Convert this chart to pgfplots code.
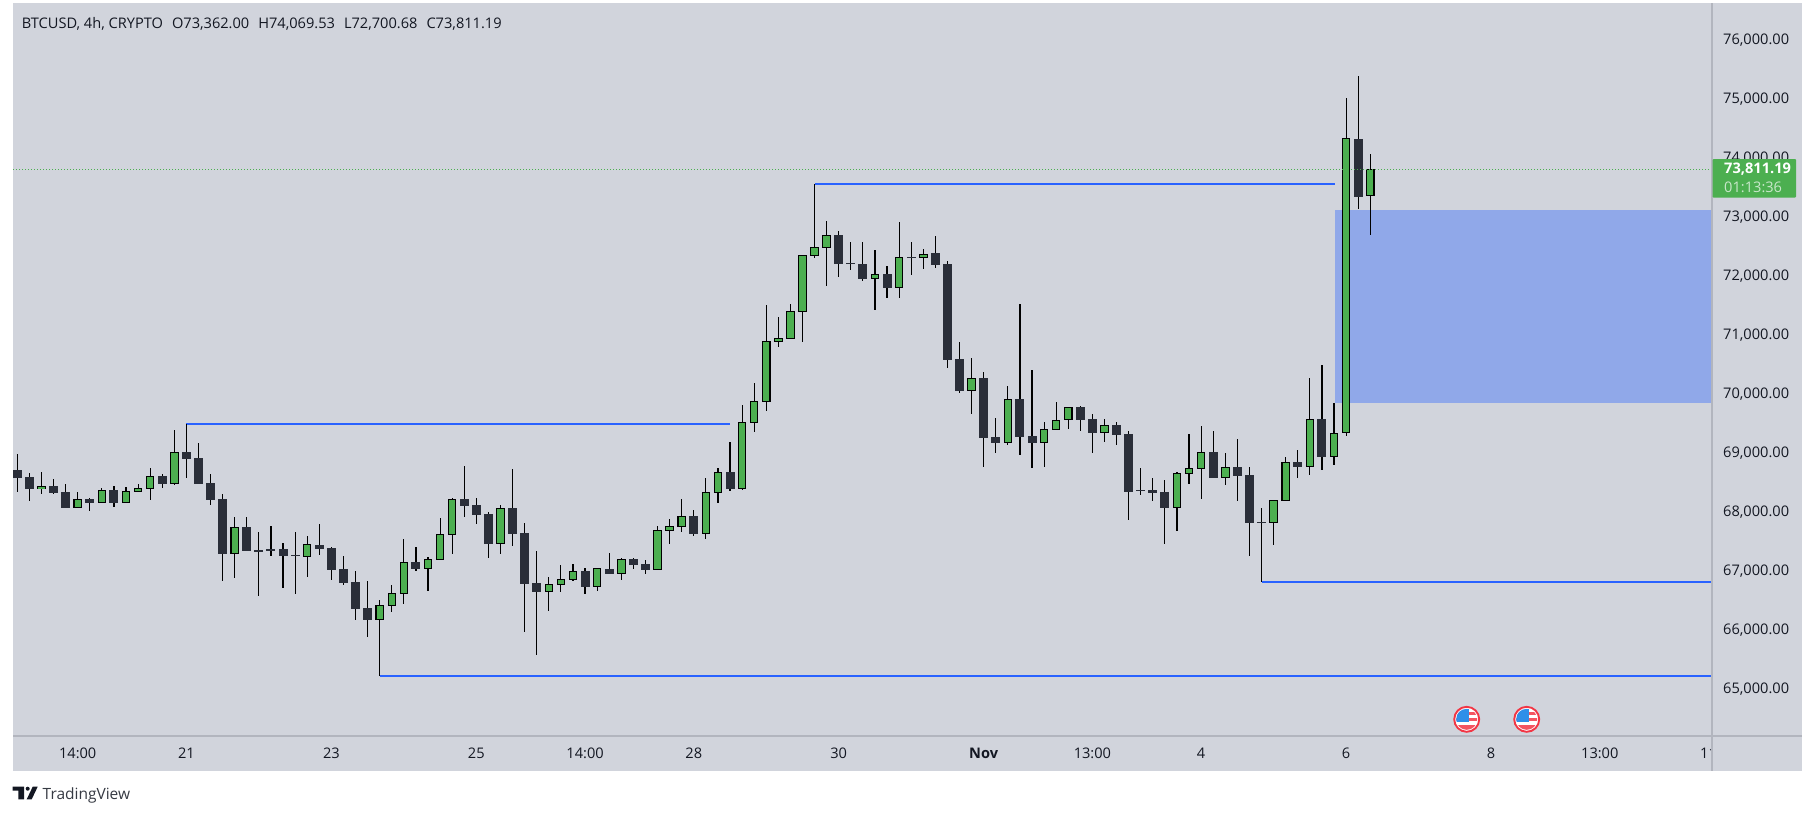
\documentclass[border=0pt]{standalone}
\usepackage{fontspec}
\setmainfont{Open Sans}
\usepackage{pgfplots}
\usepackage{pgfplotstable}
\pgfplotsset{compat=1.18}

\definecolor{panel}{HTML}{D1D4DC}
\definecolor{sepline}{HTML}{B2B5BE}
\definecolor{lvl}{HTML}{2962FF}
\definecolor{zone}{HTML}{90A8E9}
\definecolor{upc}{HTML}{4CAF50}
\definecolor{downc}{HTML}{2A2E39}
\definecolor{txt}{HTML}{131722}
\definecolor{flagred}{HTML}{F23645}
\definecolor{flagblue}{HTML}{2E8FE8}

% i high top bottom low
\pgfplotstableread{
i high top bot low
3 68684 68441 68402 68311
6 68345 68221 68080 68080
8 68413 68374 68165 68165
10 68430 68357 68165 68165
11 68481 68407 68351 68351
12 68752 68611 68402 68210
14 69395 69017 68486 68464
19 67922 67747 67301 66889
25 67600 67459 67250 66906
31 66516 66426 66183 65229
32 66770 66629 66420 66313
33 67549 67154 66624 66449
35 67245 67205 67047 66669
36 67905 67628 67199 67199
37 68244 68221 67623 67295
41 68125 68069 67470 67295
45 66906 66782 66657 66330
46 67109 66866 66776 66652
47 67126 67002 66861 66838
49 67053 67053 66742 66669
51 67228 67205 66962 66855
54 67769 67696 67030 67030
55 67888 67764 67690 67465
56 68227 67933 67758 67668
58 68582 68340 67640 67549
59 68752 68678 68334 68159
61 69819 69525 68402 68379
62 70191 69881 69519 69361
63 71512 70897 69875 69717
64 71309 70953 70890 70800
65 71528 71404 70941 70941
66 72353 72353 71399 70885
67 73561 72488 72347 72307
68 72934 72691 72482 71833
72 72443 72031 71957 71427
74 72917 72319 71805 71630
76 72460 72386 72313 72121
80 70614 70270 70061 69666
83 70140 69914 69180 69141
86 69530 69406 69180 68768
87 69869 69558 69400 69400
88 69778 69778 69558 69411
91 69581 69474 69349 69191
97 68678 68661 68080 67685
98 69328 68746 68656 68481
99 69463 69017 68740 68227
101 69006 68763 68588 68464
105 68204 68204 67826 67448
106 68938 68848 68199 68199
108 70276 69576 68774 68633
110 69847 69339 68944 68803
111 75017 74334 69339 69299
113 74069.53 73811.19 73362 72700.68
}\upcandles

\pgfplotstableread{
i high top bot low
1 68989 68718 68582 68345
2 68667 68599 68396 68193
4 68565 68447 68328 68311
5 68481 68345 68074 68074
7 68244 68227 68159 68024
9 68447 68379 68159 68091
13 68650 68616 68481 68413
15 69497 69023 68904 68582
16 69175 68921 68481 68481
17 68650 68498 68210 68125
18 68311 68227 67295 66838
20 67922 67753 67346 67346
21 67668 67363 67346 66584
22 67769 67380 67363 67261
23 67482 67380 67261 66720
24 67668 67281 67264 66618
26 67803 67448 67380 67278
27 67414 67397 67024 66855
28 67261 67041 66804 66770
29 67007 66821 66364 66178
30 66838 66381 66178 65890
34 67414 67160 67041 67007
38 68786 68227 68108 67922
39 68244 68125 67956 67803
40 68007 67973 67465 67228
42 68735 68074 67634 67431
43 67820 67651 66787 65974
44 67346 66804 66652 65585
48 67058 67007 66736 66618
50 67312 67041 66957 66957
52 67228 67211 67109 67041
53 67194 67126 67024 66957
57 68040 67939 67634 67600
60 69192 68684 68396 68362
69 72765 72697 72206 71986
70 72578 72226 72208 72104
71 72578 72206 71952 71918
73 72172 72036 71799 71630
75 72578 72327 72310 72019
77 72680 72392 72189 72138
78 72257 72206 70580 70445
79 70885 70597 70055 70021
81 70377 70275 69259 68768
82 69598 69276 69174 69005
84 71528 69920 69276 68971
85 70411 69293 69174 68751
89 69801 69784 69564 69378
90 69666 69581 69344 69005
92 69530 69479 69310 69141
93 69378 69328 68345 67871
94 68752 68382 68365 68294
95 68582 68379 68328 68193
96 68548 68345 68074 67465
100 69378 69023 68582 68582
102 69243 68769 68616 68193
103 68769 68633 67820 67261
104 68074 67840 67823 66821
107 69057 68853 68769 68582
109 70496 69582 68938 68718
112 75390 74317 73347 73138
}\downcandles

\newcommand{\usflag}[2]{%
  \begin{scope}[shift={(#1,#2)}]
    \fill[white] (0,0) circle (12.5);
    \begin{scope}
      \clip (0,0) circle (10.5);
      \fill[flagred!85] (-11,-7) rectangle (11,-4.5);
      \fill[flagred!85] (-11,-1.3) rectangle (11,2);
      \fill[flagred!85] (-11,6) rectangle (11,11);
      \fill[flagblue] (-11,-11) rectangle (2.5,3);
    \end{scope}
    \draw[flagred,line width=1.9pt] (0,0) circle (12.5);
  \end{scope}}

\begin{document}
\begin{tikzpicture}[x=1pt,y=-1pt]
\path[use as bounding box] (0,0) rectangle (1815,815);
\fill[panel] (13,3) rectangle (1802,771);

\begin{axis}[
    at={(13pt,-736pt)},
    anchor=south west,
    scale only axis,
    width=1699pt,
    height=733pt,
    xmin=0.644, xmax=141.29,
    ymin=64213.4, ymax=76626.6,
    axis line style={draw=none},
    major tick length=0pt,
    xtick={6,15,27,39,48,57,69,81,90,99,111,123,132,141},
    xticklabels={14:00,21,23,25,14:00,28,30,\textbf{Nov},13:00,4,6,8,13:00,11},
    xticklabel style={anchor=base,yshift=-22pt,text=txt,font=\fontsize{14.6pt}{16pt}\selectfont},
    ytick={65000,66000,...,76000},
    yticklabel pos=right,
    yticklabel style={anchor=west,xshift=11pt,yshift=0.2pt,inner sep=0pt,text=txt,font=\fontsize{14.6pt}{16pt}\selectfont,
      /pgf/number format/fixed,
      /pgf/number format/fixed zerofill,
      /pgf/number format/precision=2,
      /pgf/number format/1000 sep={,},
      /pgf/number format/assume math mode=true},
    scaled y ticks=false,
]

% demand zone
\addplot[draw=none,fill=zone,forget plot] coordinates {(110.05,69852)(141.29,69852)(141.29,73121)(110.05,73121)} --cycle;

% levels
\addplot[lvl,line width=1.7pt] coordinates {(15,69503)(60,69503)};
\addplot[lvl,line width=1.7pt] coordinates {(67,73561)(110.05,73561)};
\addplot[lvl,line width=1.7pt] coordinates {(31,65229)(141.29,65229)};
\addplot[lvl,line width=1.7pt] coordinates {(104,66821)(141.29,66821)};

% wicks
\addplot[draw=none,error bars/.cd,y dir=both,y explicit,error mark=none,
    error bar style={black,line width=1.15pt}]
    table[x=i,y expr=(\thisrow{high}+\thisrow{low})/2,y error expr=(\thisrow{high}-\thisrow{low})/2] {\upcandles};
\addplot[draw=none,error bars/.cd,y dir=both,y explicit,error mark=none,
    error bar style={black,line width=1.15pt}]
    table[x=i,y expr=(\thisrow{high}+\thisrow{low})/2,y error expr=(\thisrow{high}-\thisrow{low})/2] {\downcandles};

% bodies
\addplot[draw=none,error bars/.cd,y dir=both,y explicit,error mark=none,
    error bar style={downc,line width=9pt}]
    table[x=i,y expr=(\thisrow{top}+\thisrow{bot})/2,y error expr=(\thisrow{top}-\thisrow{bot})/2] {\downcandles};
\addplot[draw=none,error bars/.cd,y dir=both,y explicit,error mark=none,
    error bar style={black,line width=8.5pt}]
    table[x=i,y expr=(\thisrow{top}+\thisrow{bot})/2,y error expr=(\thisrow{top}-\thisrow{bot})/2] {\upcandles};
\addplot[draw=none,error bars/.cd,y dir=both,y explicit,error mark=none,
    error bar style={upc,line width=6.4pt}]
    table[x=i,y expr=(\thisrow{top}+\thisrow{bot})/2,y error expr=(\thisrow{top}-\thisrow{bot})/2-17] {\upcandles};

% last price
\addplot[upc,line width=0.9pt,dash pattern=on 1pt off 2pt] coordinates {(0.644,73811.19)(141.29,73811.19)};
\end{axis}

% things around the plot
\fill[panel] (1712,737) rectangle (1725,771);
\draw[sepline,line width=1.2pt] (13,736) -- (1802,736);
\draw[sepline,line width=1.2pt] (1712,3) -- (1712,771);

\fill[upc,rounded corners=1pt] (1712.6,159) rectangle (1796,197.7);
\node[anchor=west,inner sep=0pt,text=white,font=\fontsize{14.6pt}{16pt}\selectfont\bfseries] at (1724,169) {73,811.19};
\node[anchor=west,inner sep=0pt,text=white,opacity=0.7,font=\fontsize{14.6pt}{16pt}\selectfont] at (1724,187) {01:13:36};

\node[anchor=base west,inner sep=0pt,text=txt,font=\fontsize{14.6pt}{16pt}\selectfont] at (21.7,28)
  {BTCUSD, 4h, CRYPTO\hspace{9pt}O73,362.00\hspace{9pt}H74,069.53\hspace{9pt}L72,700.68\hspace{9pt}C73,811.19};

\usflag{1466.7}{719.3}
\usflag{1526.7}{719.3}

% TradingView mark
\fill[txt] (12.7,786.7) -- (24,786.7) -- (24,799.3) -- (18.3,799.3) -- (18.3,790.7) -- (12.7,790.7) -- cycle;
\fill[txt] (27.7,788.7) circle (2);
\fill[txt] (32.7,786.7) -- (37.7,786.7) -- (31.7,799.3) -- (26.7,799.3) -- cycle;
\node[anchor=base west,inner sep=0pt,text=txt!85,font=\fontsize{15.5pt}{17pt}\selectfont] at (42.5,799.5) {TradingView};
\end{tikzpicture}
\end{document}
